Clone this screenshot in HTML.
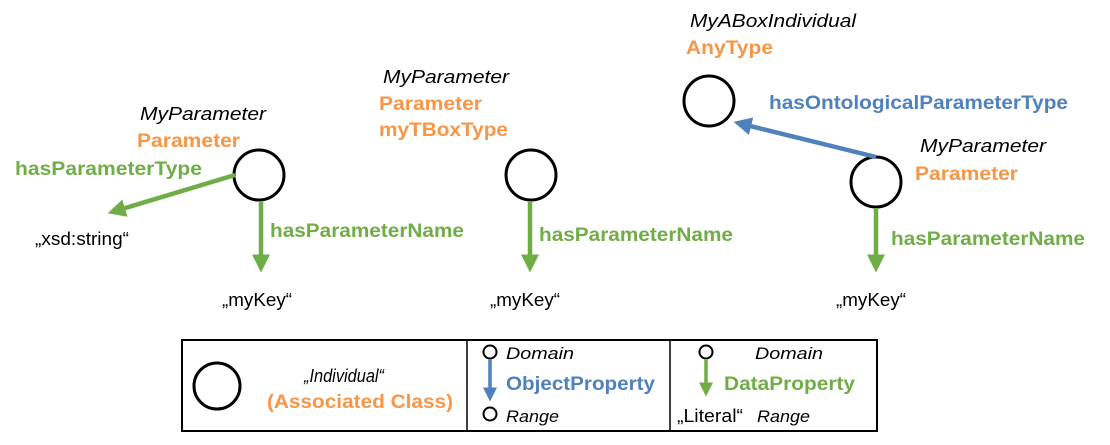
<!DOCTYPE html>
<html><head><meta charset="utf-8"><style>
html,body{margin:0;padding:0;background:#fff;width:1110px;height:445px;overflow:hidden}
text{font-family:"Liberation Sans",Arial,sans-serif}
.b{font-weight:bold;font-size:19px}
.i{font-style:italic;font-size:18px;fill:#000}
.o{fill:#F79646}.g{fill:#70AD47}.bl{fill:#4F81BD}
.n{font-size:18px;fill:#000}
</style></head><body>
<svg width="1110" height="445" viewBox="0 0 1110 445" xmlns="http://www.w3.org/2000/svg">
<defs>
<marker id="ag" markerWidth="4" markerHeight="4" refX="3" refY="2" orient="auto" markerUnits="strokeWidth"><path d="M0,0 L4,2 L0,4 z" fill="#70AD47"/></marker>
<marker id="ab" markerWidth="4" markerHeight="4" refX="3" refY="2" orient="auto" markerUnits="strokeWidth"><path d="M0,0 L4,2 L0,4 z" fill="#4F81BD"/></marker>
</defs>
<g fill="#fff" stroke="#000" stroke-width="3">
<circle cx="259" cy="175" r="25"/>
<circle cx="531" cy="175" r="25"/>
<circle cx="709" cy="101" r="25"/>
<circle cx="876" cy="182" r="25"/>
</g>
<g stroke="#70AD47" stroke-width="4.5" fill="none">
<line x1="235" y1="175" x2="112" y2="212" marker-end="url(#ag)"/>
<line x1="261" y1="201" x2="261" y2="268" marker-end="url(#ag)"/>
<line x1="530" y1="201" x2="530" y2="268" marker-end="url(#ag)"/>
<line x1="876" y1="208" x2="876" y2="268" marker-end="url(#ag)"/>
</g>
<line x1="876" y1="157" x2="738" y2="123" stroke="#4F81BD" stroke-width="4.5" marker-end="url(#ab)"/>

<text x="140" y="120" class="i" textLength="126" lengthAdjust="spacingAndGlyphs">MyParameter</text>
<text x="137" y="147" class="b o" textLength="103" lengthAdjust="spacingAndGlyphs">Parameter</text>
<text x="15" y="175" class="b g" textLength="187" lengthAdjust="spacingAndGlyphs">hasParameterType</text>
<text x="35" y="245" class="n" textLength="94" lengthAdjust="spacingAndGlyphs">„xsd:string“</text>
<text x="270" y="237" class="b g" textLength="194" lengthAdjust="spacingAndGlyphs">hasParameterName</text>
<text x="222" y="306" class="n" textLength="70" lengthAdjust="spacingAndGlyphs">„myKey“</text>

<text x="383" y="83" class="i" textLength="126" lengthAdjust="spacingAndGlyphs">MyParameter</text>
<text x="379" y="110" class="b o" textLength="103" lengthAdjust="spacingAndGlyphs">Parameter</text>
<text x="379" y="136" class="b o" textLength="129" lengthAdjust="spacingAndGlyphs">myTBoxType</text>
<text x="539" y="241" class="b g" textLength="194" lengthAdjust="spacingAndGlyphs">hasParameterName</text>
<text x="490" y="306" class="n" textLength="70" lengthAdjust="spacingAndGlyphs">„myKey“</text>

<text x="690" y="27" class="i" textLength="166" lengthAdjust="spacingAndGlyphs">MyABoxIndividual</text>
<text x="686" y="54" class="b o" textLength="87" lengthAdjust="spacingAndGlyphs">AnyType</text>
<text x="769" y="109" class="b bl" textLength="299" lengthAdjust="spacingAndGlyphs">hasOntologicalParameterType</text>
<text x="920" y="152" class="i" textLength="126" lengthAdjust="spacingAndGlyphs">MyParameter</text>
<text x="915" y="180" class="b o" textLength="103" lengthAdjust="spacingAndGlyphs">Parameter</text>
<text x="891" y="245" class="b g" textLength="194" lengthAdjust="spacingAndGlyphs">hasParameterName</text>
<text x="836" y="306" class="n" textLength="70" lengthAdjust="spacingAndGlyphs">„myKey“</text>

<rect x="182" y="340" width="695" height="91" fill="#fff" stroke="#000" stroke-width="2"/>
<line x1="467" y1="340" x2="467" y2="431" stroke="#000" stroke-width="1.5"/>
<line x1="670" y1="340" x2="670" y2="431" stroke="#000" stroke-width="1.5"/>
<circle cx="217" cy="386" r="23" fill="#fff" stroke="#000" stroke-width="3"/>
<text x="304" y="382" class="i" textLength="80" lengthAdjust="spacingAndGlyphs">„Individual“</text>
<text x="267" y="408" class="b o" textLength="186" lengthAdjust="spacingAndGlyphs">(Associated Class)</text>

<circle cx="490" cy="352" r="6.5" fill="#fff" stroke="#000" stroke-width="2"/>
<line x1="490" y1="359" x2="490" y2="398" stroke="#4F81BD" stroke-width="3.5" marker-end="url(#ab)"/>
<circle cx="490" cy="414" r="6.5" fill="#fff" stroke="#000" stroke-width="2"/>
<text x="506" y="359" class="i" style="font-size:17px" textLength="68" lengthAdjust="spacingAndGlyphs">Domain</text>
<text x="506" y="390" class="b bl" textLength="149" lengthAdjust="spacingAndGlyphs">ObjectProperty</text>
<text x="506" y="422" class="i" style="font-size:17px" textLength="53" lengthAdjust="spacingAndGlyphs">Range</text>

<circle cx="706" cy="352" r="6.5" fill="#fff" stroke="#000" stroke-width="2"/>
<line x1="706" y1="359" x2="706" y2="393" stroke="#70AD47" stroke-width="3.5" marker-end="url(#ag)"/>
<text x="755" y="359" class="i" style="font-size:17px" textLength="68" lengthAdjust="spacingAndGlyphs">Domain</text>
<text x="724" y="390" class="b g" textLength="131" lengthAdjust="spacingAndGlyphs">DataProperty</text>
<text x="677" y="422" class="n" textLength="66" lengthAdjust="spacingAndGlyphs">„Literal“</text>
<text x="757" y="422" class="i" style="font-size:17px" textLength="53" lengthAdjust="spacingAndGlyphs">Range</text>
</svg>
</body></html>
